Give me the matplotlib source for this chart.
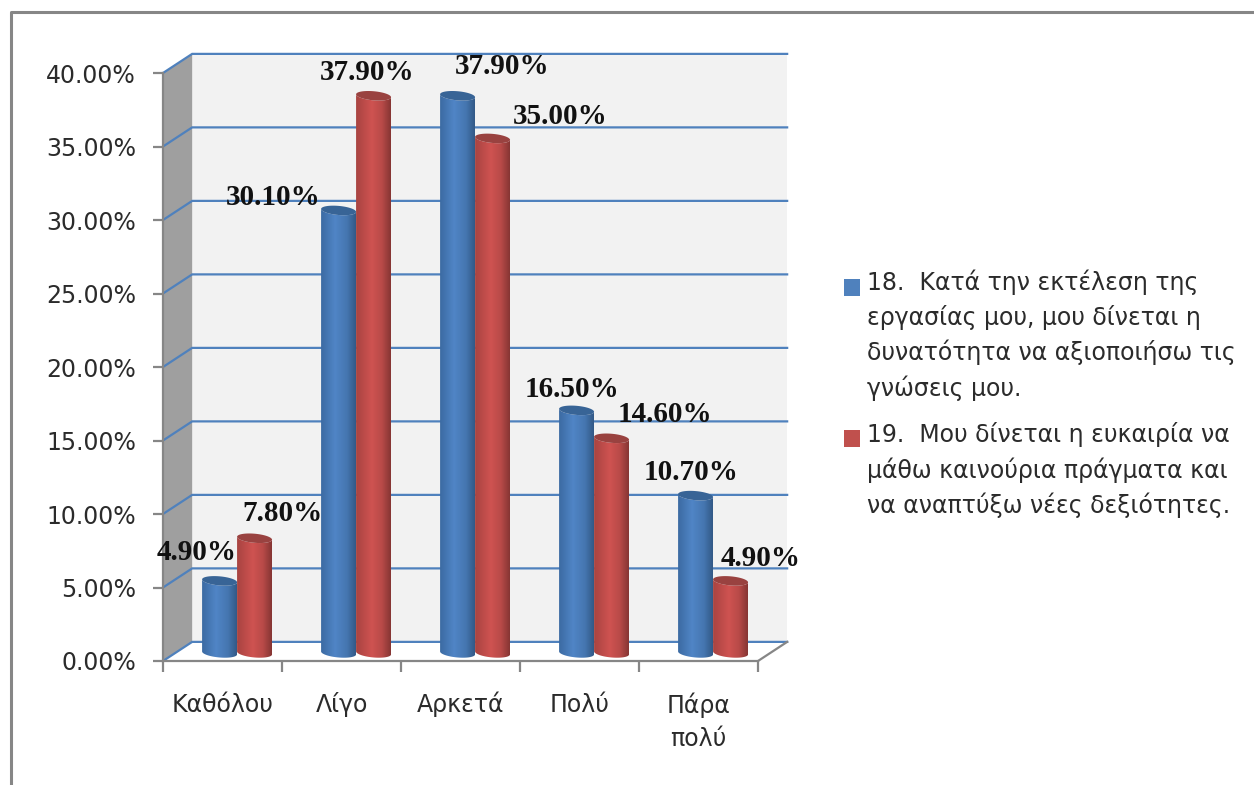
import numpy as np
from matplotlib import pyplot as plt
from matplotlib.lines import Line2D
from matplotlib.patches import Patch, Polygon

categories = ['Καθόλου', 'Λίγο', 'Αρκετά', 'Πολύ', 'Πάρα\nπολύ']
q18 = [4.9, 30.1, 37.9, 16.5, 10.7]
q19 = [7.8, 37.9, 35.0, 14.6, 4.9]
yticks = [0, 5, 10, 15, 20, 25, 30, 35, 40]
legend_labels = [
    '18.  Κατά την εκτέλεση της\nεργασίας μου, μου δίνεται η\nδυνατότητα να αξιοποιήσω τις\nγνώσεις μου.',
    '19.  Μου δίνεται η ευκαιρία να\nμάθω καινούρια πράγματα και\nνα αναπτύξω νέες δεξιότητες.',
]

BLUE = '#4f81bd'
RED = '#c0504d'
GREY = '#868686'
TEXT = '#2b2b2b'

# depth of the 3d box in data units
DX = 0.245
DY = 1.3
BAR_W = 0.294
BASE = DY / 2 - 0.1
ELL = 0.31
TILT = 0.1


def lerp_colors(stops, n=40):
    pos = [s[0] for s in stops]
    rgb = np.array([plt.matplotlib.colors.to_rgb(s[1]) for s in stops])
    t = np.linspace(0, 1, n)
    return np.stack([np.interp(t, pos, rgb[:, i]) for i in range(3)], axis=1)[None, :, :]


BLUE_SHADE = lerp_colors([(0, '#3c6ba3'), (0.4, '#5085c6'), (0.75, '#4576b0'), (1, '#335a88')])
RED_SHADE = lerp_colors([(0, '#a94441'), (0.45, '#cf5351'), (0.75, '#b84a48'), (1, '#873634')])


def cylinder(ax, xc, value, shade, top_color):
    # upright cylinder standing half way into the box
    x0 = xc - BAR_W / 2
    yt = value + BASE
    t = np.linspace(np.pi, 2 * np.pi, 40)
    ex = xc + BAR_W / 2 * np.cos(t)
    ey = ELL * np.sin(t) - TILT * np.cos(t)
    verts = np.vstack([
        np.column_stack([ex, BASE + ey]),
        np.column_stack([ex[::-1], yt + ey[::-1]]),
    ])
    body = Polygon(verts, closed=True, transform=ax.transData, facecolor='none', edgecolor='none')
    ax.add_patch(body)
    im = ax.imshow(shade, extent=[x0, x0 + BAR_W, BASE - ELL - TILT, yt + ELL + TILT], aspect='auto',
                   interpolation='bilinear', zorder=3)
    im.set_clip_path(body)
    t = np.linspace(0, 2 * np.pi, 60)
    ax.fill(xc + BAR_W / 2 * np.cos(t), yt + ELL * np.sin(t) - TILT * np.cos(t),
            color=top_color, lw=0, zorder=3)


fig = plt.figure(figsize=(12.54, 7.85), dpi=100)
ax = fig.add_axes([163 / 1254, 1 - 661 / 785, 595 / 1254, 588 / 785])
ax.patch.set_visible(False)

# walls
ax.add_patch(Polygon([(DX, 0 + DY), (5 + DX, DY), (5 + DX, 40 + DY), (DX, 40 + DY)],
                     facecolor='#f2f2f2', edgecolor='none', clip_on=False, zorder=0))
ax.add_patch(Polygon([(0, 0), (DX, DY), (DX, 40 + DY), (0, 40)],
                     facecolor='#9f9f9f', edgecolor='none', clip_on=False, zorder=0))

# gridlines run along the back wall and down the side wall
for v in yticks:
    ax.plot([0, DX, 5 + DX], [v, v + DY, v + DY], color=BLUE, lw=1.6, clip_on=False, zorder=1,
            solid_joinstyle='miter')
ax.plot([5, 5 + DX], [0, DY], color=GREY, lw=1.6, clip_on=False, zorder=1)

x = np.arange(len(categories)) + 0.5 + DX / 2
for i in range(len(categories)):
    cylinder(ax, x[i] - BAR_W / 2, q18[i], BLUE_SHADE, '#386496')
    cylinder(ax, x[i] + BAR_W / 2, q19[i], RED_SHADE, '#994240')

ax.set_xlim(0, 5)
ax.set_ylim(0, 40)

for side in ['top', 'right']:
    ax.spines[side].set_visible(False)
for side in ['left', 'bottom']:
    ax.spines[side].set_color(GREY)
    ax.spines[side].set_linewidth(1.6)
    ax.spines[side].set_zorder(2)

ax.set_yticks(yticks)
ax.set_yticklabels([f'{v:.2f}%' for v in yticks], fontsize=17, color=TEXT)
ax.tick_params(axis='y', length=7.5, width=1.6, color=GREY, pad=12)
ax.set_xticks(range(6))
ax.set_xticklabels([])
ax.tick_params(axis='x', which='major', length=8, width=1.6, color=GREY)
ax.set_xticks(np.arange(5) + 0.5, categories, minor=True, fontsize=17, color=TEXT, linespacing=1.45, va='baseline')
ax.tick_params(axis='x', which='minor', length=0, pad=37)
# two-line label hangs lower because baseline is its last line
ax.xaxis.get_minor_ticks()[4].set_pad(61)

# value labels, pixel offset from the top of each bar
offsets18 = [(-23, 28), (-65, 13), (45, 29), (-5, 21), (-5, 23)]
offsets19 = [(28, 25), (-6, 23), (68, 22), (53, 24), (30, 22)]
label_font = dict(family='Liberation Serif', weight='bold', fontsize=21, color='#111111',
                  ha='center', va='center', textcoords='offset pixels', annotation_clip=False, zorder=5)
for i in range(len(categories)):
    ax.annotate(f'{q18[i]:.2f}%', (x[i] - BAR_W / 2, q18[i] + BASE), xytext=offsets18[i], **label_font)
    ax.annotate(f'{q19[i]:.2f}%', (x[i] + BAR_W / 2, q19[i] + BASE), xytext=offsets19[i], **label_font)

handles = [Patch(facecolor=BLUE, edgecolor='none'), Patch(facecolor=RED, edgecolor='none')]
leg = fig.legend(handles, legend_labels, loc='upper left', bbox_to_anchor=(844 / 1254, 1 - 270 / 785),
                 frameon=False, fontsize=17, labelcolor=TEXT, handlelength=0.68, handleheight=0.68,
                 handletextpad=0.3, labelspacing=0.91, borderpad=0, borderaxespad=0)
for txt in leg.get_texts():
    txt.set_linespacing(1.48)
# keys sit next to the first line of each entry
for patch, lines in zip(leg.get_patches(), [4, 3]):
    patch.set_y(patch.get_y() + (lines - 1) * 11.8)

# outer frame, only top and left fall inside the image
fig.add_artist(Line2D([11 / 1254, 11 / 1254, 1], [0, 1 - 12 / 785, 1 - 12 / 785], color=GREY, lw=2.2))

fig.savefig('out.png', dpi=100)
